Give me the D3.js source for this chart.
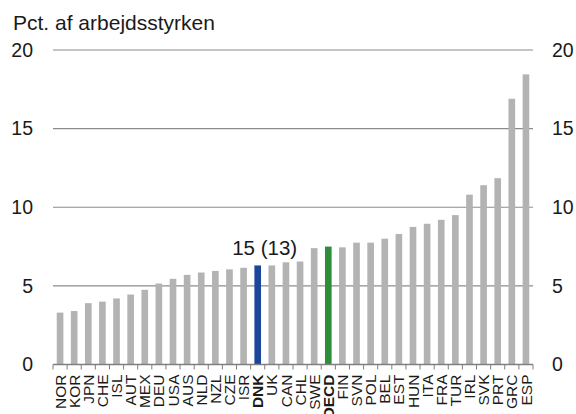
<!DOCTYPE html>
<html>
<head>
<meta charset="utf-8">
<script src="https://cdn.jsdelivr.net/npm/d3@7"></script>
<style>
  body { margin: 0; background: #fff; }
  svg { font-family: "Liberation Sans", Arial, sans-serif; }
</style>
</head>
<body>
<div id="vis"></div>
<script>
var countries = ['NOR','KOR','JPN','CHE','ISL','AUT','MEX','DEU','USA','AUS','NLD','NZL','CZE','ISR','DNK','UK','CAN','CHL','SWE','OECD','FIN','SVN','POL','BEL','EST','HUN','ITA','FRA','TUR','IRL','SVK','PRT','GRC','ESP'];
var values = [3.3, 3.4, 3.9, 4.0, 4.2, 4.45, 4.75, 5.15, 5.45, 5.7, 5.85, 5.95, 6.05, 6.15, 6.3, 6.3, 6.5, 6.55, 7.4, 7.5, 7.45, 7.75, 7.75, 8.0, 8.3, 8.75, 8.95, 9.2, 9.5, 10.8, 11.4, 11.85, 16.9, 18.45];
var yTicks = [0, 5, 10, 15, 20];
var titleText = 'Pct. af arbejdsstyrken';
var dnkLabel = '15 (13)';

var width = 576;
var height = 414;
var margin = { top: 50, right: 43, bottom: 49.5, left: 53 };

var svg = d3.select('#vis')
  .append('svg')
  .attr('width', width)
  .attr('height', height);

var x = d3.scaleBand()
  .domain(countries)
  .range([margin.left, width - margin.right])
  .paddingInner(0.53)
  .paddingOuter(0.265);

var y = d3.scaleLinear()
  .domain([0, 20])
  .range([height - margin.bottom, margin.top]);

function barColor(c) {
  if (c === 'DNK') return '#1a479a';
  if (c === 'OECD') return '#2f8c39';
  return '#b3b3b3';
}

// gridlines
svg.selectAll('.grid')
  .data(yTicks.filter(function (d) { return d > 0; }))
  .enter().append('line')
  .attr('class', 'grid')
  .attr('x1', margin.left)
  .attr('x2', width - margin.right)
  .attr('y1', function (d) { return y(d); })
  .attr('y2', function (d) { return y(d); })
  .attr('stroke', '#8c8c8c')
  .attr('stroke-width', 1.2);

// bars
svg.selectAll('.bar')
  .data(countries)
  .enter().append('rect')
  .attr('class', 'bar')
  .attr('x', function (d) { return x(d); })
  .attr('width', x.bandwidth())
  .attr('y', function (d, i) { return y(values[i]); })
  .attr('height', function (d, i) { return y(0) - y(values[i]); })
  .attr('fill', barColor);

// baseline + ticks at category boundaries
svg.append('line')
  .attr('x1', margin.left)
  .attr('x2', width - margin.right)
  .attr('y1', y(0))
  .attr('y2', y(0))
  .attr('stroke', '#7f7f7f')
  .attr('stroke-width', 1.5);

var step = x.step();
var bounds = d3.range(countries.length + 1);
svg.selectAll('.xtick')
  .data(bounds)
  .enter().append('line')
  .attr('class', 'xtick')
  .attr('x1', function (d) { return margin.left + d * step; })
  .attr('x2', function (d) { return margin.left + d * step; })
  .attr('y1', y(0))
  .attr('y2', y(0) + 5)
  .attr('stroke', '#7f7f7f')
  .attr('stroke-width', 1);

// x labels
svg.selectAll('.xlabel')
  .data(countries)
  .enter().append('text')
  .attr('class', 'xlabel')
  .attr('transform', function (d) {
    return 'translate(' + (x(d) + x.bandwidth() / 2) + ',' + (y(0) + 10) + ') rotate(-90)';
  })
  .attr('text-anchor', 'end')
  .attr('dy', '0.36em')
  .attr('font-size', 15.5)
  .attr('font-weight', function (d) { return (d === 'DNK' || d === 'OECD') ? 'bold' : 'normal'; })
  .attr('fill', '#1a1a1a')
  .text(function (d) { return d; });

// y labels left and right
svg.selectAll('.ylabelL')
  .data(yTicks)
  .enter().append('text')
  .attr('class', 'ylabelL')
  .attr('x', 33)
  .attr('y', function (d) { return y(d); })
  .attr('dy', '0.35em')
  .attr('text-anchor', 'end')
  .attr('font-size', 19.5)
  .attr('fill', '#1a1a1a')
  .text(function (d) { return d; });

svg.selectAll('.ylabelR')
  .data(yTicks)
  .enter().append('text')
  .attr('class', 'ylabelR')
  .attr('x', 552)
  .attr('y', function (d) { return y(d); })
  .attr('dy', '0.35em')
  .attr('text-anchor', 'start')
  .attr('font-size', 19.5)
  .attr('fill', '#1a1a1a')
  .text(function (d) { return d; });

// title
svg.append('text')
  .attr('x', 13)
  .attr('y', 29.5)
  .attr('font-size', 21)
  .attr('fill', '#1a1a1a')
  .text(titleText);

// DNK annotation
var dnkIdx = countries.indexOf('DNK');
svg.append('text')
  .attr('x', x('DNK') + x.bandwidth() / 2 + 7)
  .attr('y', y(values[dnkIdx]) - 10)
  .attr('text-anchor', 'middle')
  .attr('font-size', 20.5)
  .attr('fill', '#1a1a1a')
  .text(dnkLabel);
</script>
</body>
</html>
